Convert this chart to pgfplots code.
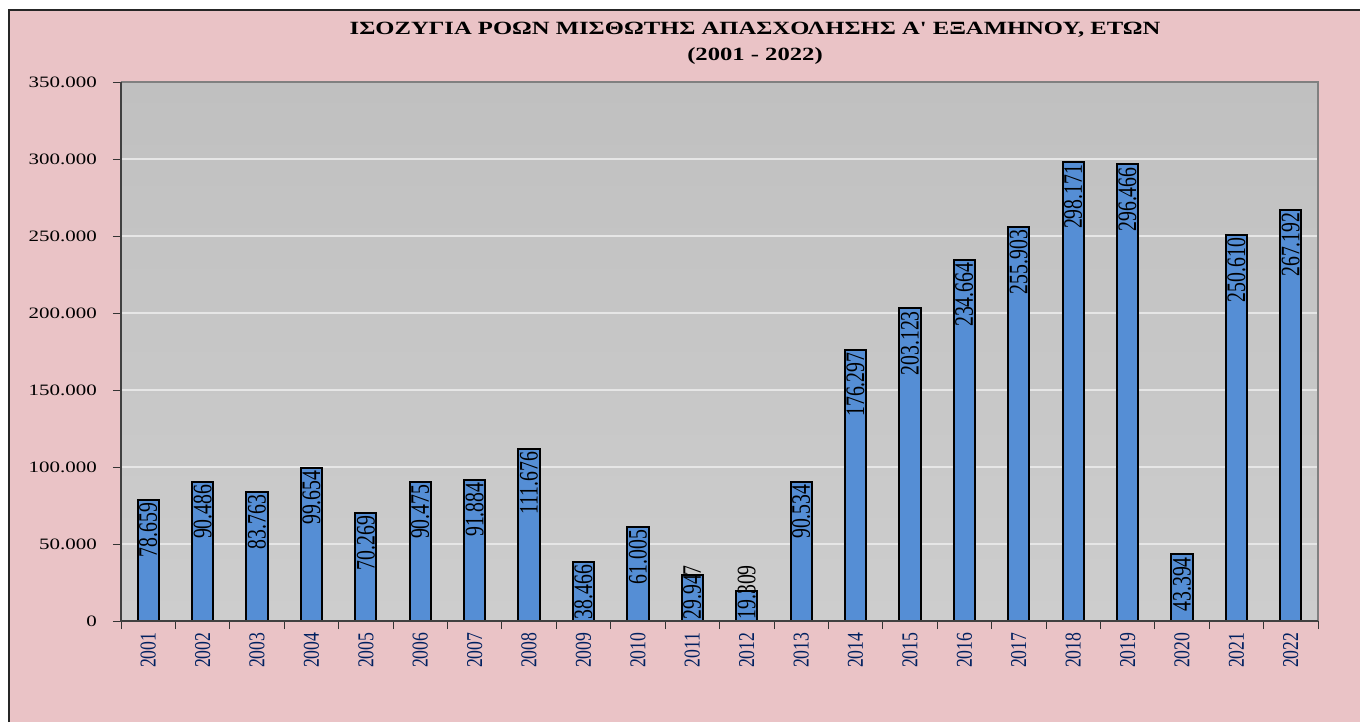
\documentclass[border=0pt]{standalone}
\usepackage{fontspec}
\usepackage{pgfplots}
\pgfplotsset{compat=1.18}
\setmainfont{Liberation Serif}
\newfontfamily\titlefont[FakeStretch=1.32]{Liberation Serif}
\newfontfamily\ytfont[FakeStretch=1.32]{Liberation Serif}
\newfontfamily\xtfont[FakeStretch=0.78]{Liberation Serif}
\newfontfamily\vfont[FakeStretch=0.74]{Liberation Serif}
\definecolor{bgpink}{RGB}{234,195,198}
\definecolor{barblue}{RGB}{85,142,213}
\definecolor{navy}{RGB}{0,32,96}
\definecolor{plottop}{RGB}{192,192,192}
\definecolor{plotbot}{RGB}{205,205,205}
\definecolor{gridc}{RGB}{230,230,230}
\definecolor{bordergray}{RGB}{128,128,128}
\begin{document}
\begin{tikzpicture}[x=0.75pt,y=0.75pt]
\path[use as bounding box] (0,0) rectangle (1360,722);
\fill[white] (0,0) rectangle (1360,722);
\fill[bgpink] (9,0) rectangle (1360,712);
\draw[black!85, line width=1pt] (9,0) -- (9,712) -- (1360,712);
\node[font=\titlefont\bfseries\fontsize{14}{16}\selectfont, inner sep=0pt] at (755,692) {ΙΣΟΖΥΓΙΑ ΡΟΩΝ ΜΙΣΘΩΤΗΣ ΑΠΑΣΧΟΛΗΣΗΣ Α' ΕΞΑΜΗΝΟΥ, ΕΤΩΝ};
\node[font=\titlefont\bfseries\fontsize{14}{16}\selectfont, inner sep=0pt] at (755,666) {(2001 - 2022)};
\begin{axis}[
  at={(90.75pt,75.75pt)}, anchor=south west,
  scale only axis, width=897.75pt, height=404.25pt,
  xmin=0.5, xmax=22.5, ymin=0, ymax=350000,
  clip=false,
  axis background/.style={shade, top color=plottop, bottom color=plotbot},
  axis line style={draw=none},
  ymajorgrids, grid style={gridc, line width=1pt},
  tick align=outside, major tick length=6pt,
  xtick pos=bottom, ytick pos=left,
  tick style={black!80, line width=0.6pt},
  xtick={0.5,1.5,...,22.5}, xticklabels={},
  extra x ticks={1,2,3,4,5,6,7,8,9,10,11,12,13,14,15,16,17,18,19,20,21,22},
  extra x tick labels={2001,2002,2003,2004,2005,2006,2007,2008,2009,2010,2011,2012,2013,2014,2015,2016,2017,2018,2019,2020,2021,2022},
  extra x tick style={major tick length=0pt, xticklabel style={rotate=90, anchor=east, inner sep=0pt, text=navy, font=\xtfont\fontsize{17}{18}\selectfont}},
  xticklabel shift=8.5pt,
  ytick={0,50000,...,350000},
  scaled y ticks=false,
  yticklabel style={font=\ytfont\fontsize{11.9}{14}\selectfont, inner sep=0pt},
  yticklabel shift=12pt,
  /pgf/number format/fixed,
  /pgf/number format/precision=0,
  /pgf/number format/1000 sep={.},
  /pgf/number format/assume math mode=true,
]
\addplot[ybar, bar shift=0pt, bar width=0.39, fill=barblue, draw=black, line width=1.5pt,
  nodes near coords, nodes near coords style={rotate=90, anchor=east, inner sep=1.5pt, text=black, font=\vfont\fontsize{20}{22}\selectfont}]
coordinates {(1,78659) (2,90486) (3,83763) (4,99654) (5,70269) (6,90475) (7,91884) (8,111676) (9,38466) (10,61005) (13,90534) (14,176297) (15,203123) (16,234664) (17,255903) (18,298171) (19,296466) (20,43394) (21,250610) (22,267192)};
\addplot[ybar, bar shift=0pt, bar width=0.39, fill=barblue, draw=black, line width=1.5pt]
coordinates {(11,29947) (12,19309)};
\addplot[only marks, mark=none, point meta=explicit,
  nodes near coords, nodes near coords style={rotate=90, anchor=west, inner sep=1pt, text=black, font=\vfont\fontsize{20}{22}\selectfont}]
coordinates {(11,0) [29947] (12,0) [19309]};
\draw[bordergray, line width=1.8pt] (rel axis cs:0,1) -- (rel axis cs:1,1) -- (rel axis cs:1,0);
\draw[black!75, line width=0.8pt] (rel axis cs:0,1) -- (rel axis cs:0,0) -- (rel axis cs:1,0);
\end{axis}
\end{tikzpicture}
\end{document}
